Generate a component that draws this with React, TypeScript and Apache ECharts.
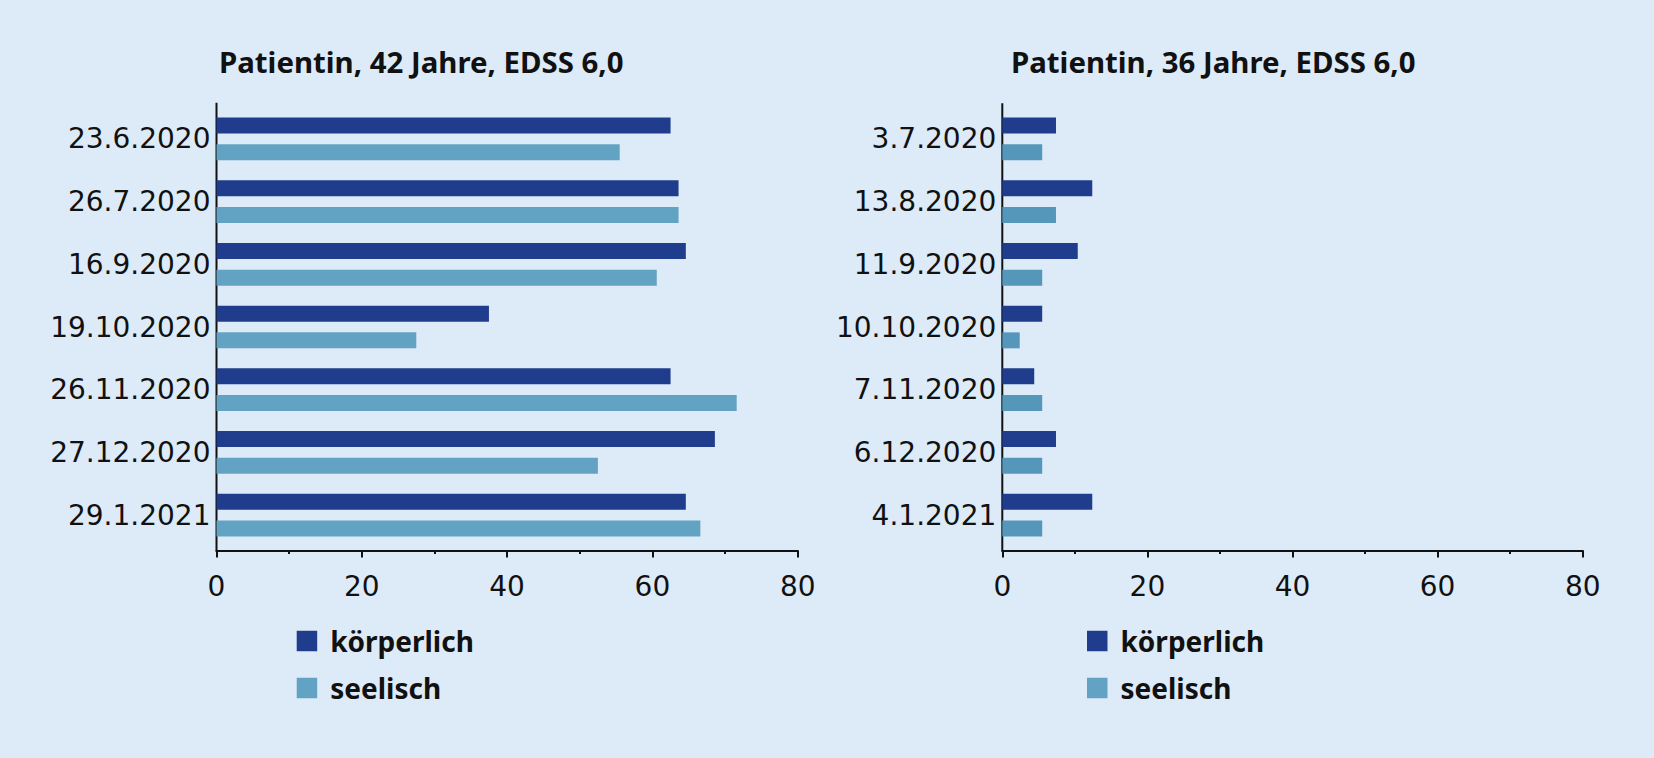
import React, { useEffect, useRef } from "react";
import * as echarts from "echarts";

const leftCategories = ["23.6.2020", "26.7.2020", "16.9.2020", "19.10.2020", "26.11.2020", "27.12.2020", "29.1.2021"];
const leftKoerperlich = [62.5, 63.6, 64.6, 37.5, 62.5, 68.6, 64.6];
const leftSeelisch = [55.5, 63.6, 60.6, 27.5, 71.6, 52.5, 66.6];

const rightCategories = ["3.7.2020", "13.8.2020", "11.9.2020", "10.10.2020", "7.11.2020", "6.12.2020", "4.1.2021"];
const rightKoerperlich = [7.4, 12.4, 10.4, 5.5, 4.4, 7.4, 12.4];
const rightSeelisch = [5.5, 7.4, 5.5, 2.4, 5.5, 5.5, 5.5];

const seriesNames = ["körperlich", "seelisch"];
const chartTitles = ["Patientin, 42 Jahre, EDSS 6,0", "Patientin, 36 Jahre, EDSS 6,0"];

const BG = "#ddebf8";
const DARK = "#1f3c8d";
const LIGHT_L = "#62a3c4";
const LIGHT_R = "#5597bb";
const INK = "#111111";

const GRID_TOP = 107.5;
const GRID_H = 439;
const GRID_W_L = 581.2;
const GRID_W_R = 580.4;
const LEFT_L = 216.5;
const LEFT_R = 1002.3;

function xAxisFor(gridIndex: number) {
  return {
    gridIndex,
    type: "value",
    min: 0,
    max: 80,
    interval: 20,
    offset: 4,
    axisLine: { show: true, lineStyle: { color: INK, width: 2 } },
    axisTick: { show: true, length: 7, lineStyle: { color: INK, width: 2 } },
    minorTick: { show: true, splitNumber: 2, length: 3.5, lineStyle: { color: INK, width: 2 } },
    splitLine: { show: false },
    minorSplitLine: { show: false },
    axisLabel: { margin: 22, fontFamily: "DejaVu Sans", fontSize: 28, color: INK },
  };
}

function yAxisFor(gridIndex: number, data: string[]) {
  return {
    gridIndex,
    type: "category",
    data,
    inverse: true,
    axisLine: { show: false },
    axisTick: { show: false },
    splitLine: { show: false },
    axisLabel: { margin: 6, fontFamily: "DejaVu Sans", fontSize: 28, color: INK },
  };
}

function barSeries(name: string, idx: number, data: number[], color: string) {
  return {
    type: "bar",
    name,
    xAxisIndex: idx,
    yAxisIndex: idx,
    data,
    barWidth: 16,
    barGap: "67%",
    itemStyle: { color },
  };
}

export default function App() {
  const ref = useRef<HTMLDivElement>(null);
  useEffect(() => {
    document.body.style.margin = "0";
    document.body.style.background = BG;
    const chart = echarts.init(ref.current!, null, { renderer: "svg" });
    const legendBase = {
      orient: "vertical",
      top: 622,
      padding: 5,
      itemWidth: 20.5,
      itemHeight: 20.5,
      itemGap: 19,
      icon: "rect",
      data: seriesNames,
      selectedMode: false,
      textStyle: {
        fontFamily: "Noto Sans",
        fontWeight: "bold",
        fontSize: 28,
        color: INK,
        lineHeight: 20,
        padding: [0, 0, 0, 8],
      },
    };
    const titleStyle = { fontFamily: "Noto Sans", fontWeight: "bold", fontSize: 29.4, color: INK };
    chart.setOption({
      animation: false,
      backgroundColor: BG,
      title: [
        { text: chartTitles[0], left: 214, top: 42, textStyle: titleStyle },
        { text: chartTitles[1], left: 1006, top: 42, textStyle: titleStyle },
      ],
      legend: [
        { ...legendBase, left: 291.7 },
        { ...legendBase, left: 1082 },
      ],
      grid: [
        { left: LEFT_L, top: GRID_TOP, width: GRID_W_L, height: GRID_H, containLabel: false },
        { left: LEFT_R, top: GRID_TOP, width: GRID_W_R, height: GRID_H, containLabel: false },
      ],
      xAxis: [xAxisFor(0), xAxisFor(1)],
      yAxis: [yAxisFor(0, leftCategories), yAxisFor(1, rightCategories)],
      series: [
        barSeries(seriesNames[0], 0, leftKoerperlich, DARK),
        barSeries(seriesNames[1], 0, leftSeelisch, LIGHT_L),
        barSeries(seriesNames[0], 1, rightKoerperlich, DARK),
        barSeries(seriesNames[1], 1, rightSeelisch, LIGHT_R),
      ],
      graphic: [
        {
          type: "line",
          shape: { x1: LEFT_L, y1: 102.7, x2: LEFT_L, y2: 551.5 },
          style: { stroke: INK, lineWidth: 2 },
        },
        {
          type: "line",
          shape: { x1: LEFT_R, y1: 103.3, x2: LEFT_R, y2: 551.5 },
          style: { stroke: INK, lineWidth: 2 },
        },
      ],
    });
    return () => chart.dispose();
  }, []);
  return <div ref={ref} style={{ width: 1654, height: 758, background: BG }} />;
}
